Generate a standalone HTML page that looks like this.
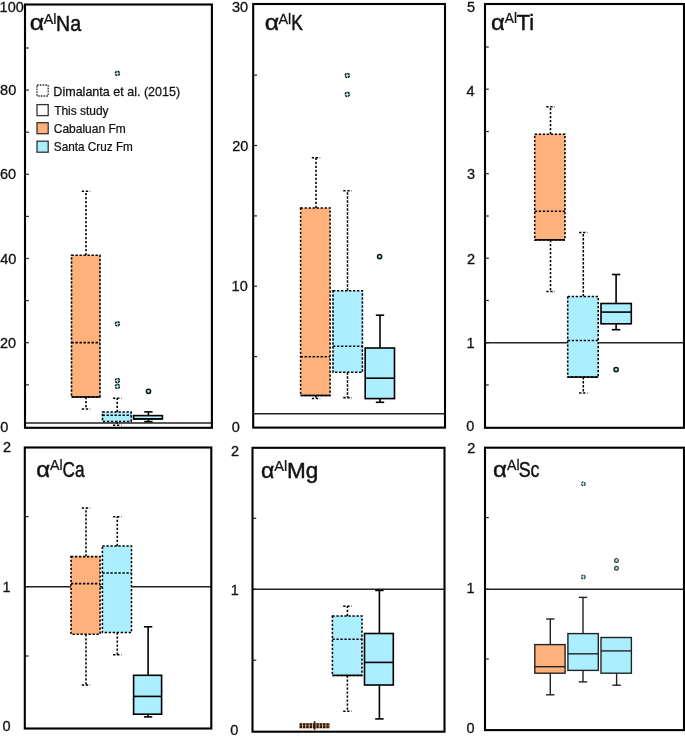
<!DOCTYPE html>
<html><head><meta charset="utf-8"><style>
html,body{margin:0;padding:0;background:#fff;width:685px;height:736px;overflow:hidden}
svg{display:block;will-change:transform}
</style></head><body>
<svg width="685" height="736" viewBox="0 0 685 736">
<rect width="685" height="736" fill="#fff"/>
<line x1="25.0" y1="422.9" x2="211.9" y2="422.9" stroke="#222" stroke-width="1.5"/>
<line x1="25.0" y1="384.8" x2="28.8" y2="384.8" stroke="#222" stroke-width="1.2"/>
<line x1="25.0" y1="342.7" x2="28.8" y2="342.7" stroke="#222" stroke-width="1.2"/>
<line x1="25.0" y1="300.6" x2="28.8" y2="300.6" stroke="#222" stroke-width="1.2"/>
<line x1="25.0" y1="258.5" x2="28.8" y2="258.5" stroke="#222" stroke-width="1.2"/>
<line x1="25.0" y1="216.4" x2="28.8" y2="216.4" stroke="#222" stroke-width="1.2"/>
<line x1="25.0" y1="174.3" x2="28.8" y2="174.3" stroke="#222" stroke-width="1.2"/>
<line x1="25.0" y1="132.2" x2="28.8" y2="132.2" stroke="#222" stroke-width="1.2"/>
<line x1="25.0" y1="90.1" x2="28.8" y2="90.1" stroke="#222" stroke-width="1.2"/>
<line x1="25.0" y1="48.0" x2="28.8" y2="48.0" stroke="#222" stroke-width="1.2"/>
<line x1="253.2" y1="413.8" x2="445.0" y2="413.8" stroke="#222" stroke-width="1.5"/>
<line x1="253.2" y1="356.6" x2="257.0" y2="356.6" stroke="#222" stroke-width="1.2"/>
<line x1="253.2" y1="286.2" x2="257.0" y2="286.2" stroke="#222" stroke-width="1.2"/>
<line x1="253.2" y1="215.9" x2="257.0" y2="215.9" stroke="#222" stroke-width="1.2"/>
<line x1="253.2" y1="145.5" x2="257.0" y2="145.5" stroke="#222" stroke-width="1.2"/>
<line x1="253.2" y1="75.1" x2="257.0" y2="75.1" stroke="#222" stroke-width="1.2"/>
<line x1="485.0" y1="342.7" x2="684.0" y2="342.7" stroke="#222" stroke-width="1.5"/>
<line x1="485.0" y1="385.0" x2="488.8" y2="385.0" stroke="#222" stroke-width="1.2"/>
<line x1="485.0" y1="342.7" x2="488.8" y2="342.7" stroke="#222" stroke-width="1.2"/>
<line x1="485.0" y1="300.5" x2="488.8" y2="300.5" stroke="#222" stroke-width="1.2"/>
<line x1="485.0" y1="258.2" x2="488.8" y2="258.2" stroke="#222" stroke-width="1.2"/>
<line x1="485.0" y1="216.0" x2="488.8" y2="216.0" stroke="#222" stroke-width="1.2"/>
<line x1="485.0" y1="173.7" x2="488.8" y2="173.7" stroke="#222" stroke-width="1.2"/>
<line x1="485.0" y1="131.5" x2="488.8" y2="131.5" stroke="#222" stroke-width="1.2"/>
<line x1="485.0" y1="89.2" x2="488.8" y2="89.2" stroke="#222" stroke-width="1.2"/>
<line x1="485.0" y1="47.0" x2="488.8" y2="47.0" stroke="#222" stroke-width="1.2"/>
<line x1="24.8" y1="586.7" x2="211.3" y2="586.7" stroke="#222" stroke-width="1.5"/>
<line x1="24.8" y1="656.0" x2="28.6" y2="656.0" stroke="#222" stroke-width="1.2"/>
<line x1="24.8" y1="586.6" x2="28.6" y2="586.6" stroke="#222" stroke-width="1.2"/>
<line x1="24.8" y1="516.6" x2="28.6" y2="516.6" stroke="#222" stroke-width="1.2"/>
<line x1="252.5" y1="589.2" x2="444.5" y2="589.2" stroke="#222" stroke-width="1.5"/>
<line x1="252.5" y1="660.2" x2="256.3" y2="660.2" stroke="#222" stroke-width="1.2"/>
<line x1="252.5" y1="589.3" x2="256.3" y2="589.3" stroke="#222" stroke-width="1.2"/>
<line x1="252.5" y1="518.3" x2="256.3" y2="518.3" stroke="#222" stroke-width="1.2"/>
<line x1="485.0" y1="589.2" x2="684.0" y2="589.2" stroke="#222" stroke-width="1.5"/>
<line x1="485.0" y1="659.0" x2="488.8" y2="659.0" stroke="#222" stroke-width="1.2"/>
<line x1="485.0" y1="589.3" x2="488.8" y2="589.3" stroke="#222" stroke-width="1.2"/>
<line x1="485.0" y1="517.6" x2="488.8" y2="517.6" stroke="#222" stroke-width="1.2"/>
<line x1="86" y1="255.3" x2="86" y2="191.2" stroke="#000" stroke-width="1.55" stroke-dasharray="2.35 1.65"/>
<line x1="81.8" y1="191.2" x2="90.2" y2="191.2" stroke="#000" stroke-width="1.55" stroke-dasharray="2.35 1.65"/>
<line x1="86" y1="397" x2="86" y2="408.9" stroke="#000" stroke-width="1.55" stroke-dasharray="2.35 1.65"/>
<line x1="81.8" y1="408.9" x2="90.2" y2="408.9" stroke="#000" stroke-width="1.55" stroke-dasharray="2.35 1.65"/>
<rect x="71.5" y="255.3" width="28.5" height="141.7" fill="#FFB17C" stroke="#000" stroke-width="1.55" stroke-dasharray="2.35 1.65"/>
<line x1="71.5" y1="397" x2="100" y2="397" stroke="#000" stroke-width="1.55"/>
<line x1="71.5" y1="342.6" x2="100" y2="342.6" stroke="#000" stroke-width="1.55" stroke-dasharray="2.35 1.65"/>
<line x1="117.2" y1="412.0" x2="117.2" y2="398.2" stroke="#000" stroke-width="1.55" stroke-dasharray="2.35 1.65"/>
<line x1="113.0" y1="398.2" x2="121.4" y2="398.2" stroke="#000" stroke-width="1.55" stroke-dasharray="2.35 1.65"/>
<line x1="117.2" y1="421.4" x2="117.2" y2="425.3" stroke="#000" stroke-width="1.55" stroke-dasharray="2.35 1.65"/>
<line x1="113.0" y1="425.3" x2="121.4" y2="425.3" stroke="#000" stroke-width="1.55" stroke-dasharray="2.35 1.65"/>
<rect x="102.5" y="412.0" width="28.7" height="9.4" fill="#AAEEFF" stroke="#000" stroke-width="1.55" stroke-dasharray="2.35 1.65"/>
<line x1="102.5" y1="415.3" x2="131.2" y2="415.3" stroke="#000" stroke-width="1.55" stroke-dasharray="2.35 1.65"/>
<line x1="148.4" y1="415.6" x2="148.4" y2="411.9" stroke="#000" stroke-width="1.6" />
<line x1="144.20000000000002" y1="411.9" x2="152.6" y2="411.9" stroke="#000" stroke-width="1.6" />
<line x1="148.4" y1="418.9" x2="148.4" y2="421.6" stroke="#000" stroke-width="1.6" />
<line x1="144.20000000000002" y1="421.6" x2="152.6" y2="421.6" stroke="#000" stroke-width="1.6" />
<rect x="133.5" y="415.6" width="28.9" height="3.3" fill="#AAEEFF" stroke="#000" stroke-width="1.6" />
<line x1="133.5" y1="418.9" x2="162.4" y2="418.9" stroke="#000" stroke-width="1.6" />
<line x1="316" y1="208" x2="316" y2="157.7" stroke="#000" stroke-width="1.55" stroke-dasharray="2.35 1.65"/>
<line x1="311.8" y1="157.7" x2="320.2" y2="157.7" stroke="#000" stroke-width="1.55" stroke-dasharray="2.35 1.65"/>
<line x1="316" y1="395.5" x2="316" y2="398.5" stroke="#000" stroke-width="1.55" stroke-dasharray="2.35 1.65"/>
<line x1="311.8" y1="398.5" x2="320.2" y2="398.5" stroke="#000" stroke-width="1.55" stroke-dasharray="2.35 1.65"/>
<rect x="300.6" y="208" width="29.5" height="187.5" fill="#FFB17C" stroke="#000" stroke-width="1.55" stroke-dasharray="2.35 1.65"/>
<line x1="300.6" y1="395.5" x2="330.1" y2="395.5" stroke="#000" stroke-width="1.55"/>
<line x1="300.6" y1="356.8" x2="330.1" y2="356.8" stroke="#000" stroke-width="1.55" stroke-dasharray="2.35 1.65"/>
<line x1="347.5" y1="290.7" x2="347.5" y2="190.7" stroke="#000" stroke-width="1.55" stroke-dasharray="2.35 1.65"/>
<line x1="343.3" y1="190.7" x2="351.7" y2="190.7" stroke="#000" stroke-width="1.55" stroke-dasharray="2.35 1.65"/>
<line x1="347.5" y1="372.3" x2="347.5" y2="397.6" stroke="#000" stroke-width="1.55" stroke-dasharray="2.35 1.65"/>
<line x1="343.3" y1="397.6" x2="351.7" y2="397.6" stroke="#000" stroke-width="1.55" stroke-dasharray="2.35 1.65"/>
<rect x="333.0" y="290.7" width="29.4" height="81.6" fill="#AAEEFF" stroke="#000" stroke-width="1.55" stroke-dasharray="2.35 1.65"/>
<line x1="333.0" y1="346.3" x2="362.4" y2="346.3" stroke="#000" stroke-width="1.55" stroke-dasharray="2.35 1.65"/>
<line x1="380" y1="348" x2="380" y2="315.2" stroke="#000" stroke-width="1.6" />
<line x1="375.8" y1="315.2" x2="384.2" y2="315.2" stroke="#000" stroke-width="1.6" />
<line x1="380" y1="398.6" x2="380" y2="402.3" stroke="#000" stroke-width="1.6" />
<line x1="375.8" y1="402.3" x2="384.2" y2="402.3" stroke="#000" stroke-width="1.6" />
<rect x="365.2" y="348" width="29.3" height="50.6" fill="#AAEEFF" stroke="#000" stroke-width="1.6" />
<line x1="365.2" y1="378.2" x2="394.5" y2="378.2" stroke="#000" stroke-width="1.6" />
<line x1="550.5" y1="134.3" x2="550.5" y2="106.8" stroke="#000" stroke-width="1.55" stroke-dasharray="2.35 1.65"/>
<line x1="546.3" y1="106.8" x2="554.7" y2="106.8" stroke="#000" stroke-width="1.55" stroke-dasharray="2.35 1.65"/>
<line x1="550.5" y1="239.9" x2="550.5" y2="291.4" stroke="#000" stroke-width="1.55" stroke-dasharray="2.35 1.65"/>
<line x1="546.3" y1="291.4" x2="554.7" y2="291.4" stroke="#000" stroke-width="1.55" stroke-dasharray="2.35 1.65"/>
<rect x="534.7" y="134.3" width="30.3" height="105.6" fill="#FFB17C" stroke="#000" stroke-width="1.55" stroke-dasharray="2.35 1.65"/>
<line x1="534.7" y1="239.9" x2="565" y2="239.9" stroke="#000" stroke-width="1.55"/>
<line x1="534.7" y1="211.2" x2="565" y2="211.2" stroke="#000" stroke-width="1.55" stroke-dasharray="2.35 1.65"/>
<line x1="583.3" y1="296.4" x2="583.3" y2="232.4" stroke="#000" stroke-width="1.55" stroke-dasharray="2.35 1.65"/>
<line x1="579.0999999999999" y1="232.4" x2="587.5" y2="232.4" stroke="#000" stroke-width="1.55" stroke-dasharray="2.35 1.65"/>
<line x1="583.3" y1="377.1" x2="583.3" y2="393" stroke="#000" stroke-width="1.55" stroke-dasharray="2.35 1.65"/>
<line x1="579.0999999999999" y1="393" x2="587.5" y2="393" stroke="#000" stroke-width="1.55" stroke-dasharray="2.35 1.65"/>
<rect x="567.7" y="296.4" width="30.5" height="80.7" fill="#AAEEFF" stroke="#000" stroke-width="1.55" stroke-dasharray="2.35 1.65"/>
<line x1="567.7" y1="377.1" x2="598.2" y2="377.1" stroke="#000" stroke-width="1.55"/>
<line x1="567.7" y1="340.4" x2="598.2" y2="340.4" stroke="#000" stroke-width="1.55" stroke-dasharray="2.35 1.65"/>
<line x1="616.1" y1="303.5" x2="616.1" y2="274.5" stroke="#000" stroke-width="1.6" />
<line x1="611.9" y1="274.5" x2="620.3000000000001" y2="274.5" stroke="#000" stroke-width="1.6" />
<line x1="616.1" y1="323.8" x2="616.1" y2="329.7" stroke="#000" stroke-width="1.6" />
<line x1="611.9" y1="329.7" x2="620.3000000000001" y2="329.7" stroke="#000" stroke-width="1.6" />
<rect x="601" y="303.5" width="30.3" height="20.3" fill="#AAEEFF" stroke="#000" stroke-width="1.6" />
<line x1="601" y1="312.1" x2="631.3" y2="312.1" stroke="#000" stroke-width="1.6" />
<line x1="86" y1="556.6" x2="86" y2="508" stroke="#000" stroke-width="1.55" stroke-dasharray="2.35 1.65"/>
<line x1="81.8" y1="508" x2="90.2" y2="508" stroke="#000" stroke-width="1.55" stroke-dasharray="2.35 1.65"/>
<line x1="86" y1="634.2" x2="86" y2="685" stroke="#000" stroke-width="1.55" stroke-dasharray="2.35 1.65"/>
<line x1="81.8" y1="685" x2="90.2" y2="685" stroke="#000" stroke-width="1.55" stroke-dasharray="2.35 1.65"/>
<rect x="71" y="556.6" width="29.1" height="77.6" fill="#FFB17C" stroke="#000" stroke-width="1.55" stroke-dasharray="2.35 1.65"/>
<line x1="71" y1="583.6" x2="100.1" y2="583.6" stroke="#000" stroke-width="1.55" stroke-dasharray="2.35 1.65"/>
<line x1="117.3" y1="546" x2="117.3" y2="516.8" stroke="#000" stroke-width="1.55" stroke-dasharray="2.35 1.65"/>
<line x1="113.1" y1="516.8" x2="121.5" y2="516.8" stroke="#000" stroke-width="1.55" stroke-dasharray="2.35 1.65"/>
<line x1="117.3" y1="632.4" x2="117.3" y2="654.8" stroke="#000" stroke-width="1.55" stroke-dasharray="2.35 1.65"/>
<line x1="113.1" y1="654.8" x2="121.5" y2="654.8" stroke="#000" stroke-width="1.55" stroke-dasharray="2.35 1.65"/>
<rect x="102.4" y="546" width="29.1" height="86.4" fill="#AAEEFF" stroke="#000" stroke-width="1.55" stroke-dasharray="2.35 1.65"/>
<line x1="102.4" y1="573" x2="131.5" y2="573" stroke="#000" stroke-width="1.55" stroke-dasharray="2.35 1.65"/>
<line x1="148.1" y1="675.3" x2="148.1" y2="626.8" stroke="#000" stroke-width="1.6" />
<line x1="143.9" y1="626.8" x2="152.29999999999998" y2="626.8" stroke="#000" stroke-width="1.6" />
<line x1="148.1" y1="714.2" x2="148.1" y2="716.9" stroke="#000" stroke-width="1.6" />
<line x1="143.9" y1="716.9" x2="152.29999999999998" y2="716.9" stroke="#000" stroke-width="1.6" />
<rect x="133.6" y="675.3" width="28.0" height="38.9" fill="#AAEEFF" stroke="#000" stroke-width="1.6" />
<line x1="133.6" y1="696.4" x2="161.6" y2="696.4" stroke="#000" stroke-width="1.6" />
<line x1="347.4" y1="616" x2="347.4" y2="606.2" stroke="#000" stroke-width="1.55" stroke-dasharray="2.35 1.65"/>
<line x1="343.2" y1="606.2" x2="351.59999999999997" y2="606.2" stroke="#000" stroke-width="1.55" stroke-dasharray="2.35 1.65"/>
<line x1="347.4" y1="675.4" x2="347.4" y2="711.3" stroke="#000" stroke-width="1.55" stroke-dasharray="2.35 1.65"/>
<line x1="343.2" y1="711.3" x2="351.59999999999997" y2="711.3" stroke="#000" stroke-width="1.55" stroke-dasharray="2.35 1.65"/>
<rect x="332.4" y="616" width="29.6" height="59.4" fill="#AAEEFF" stroke="#000" stroke-width="1.55" stroke-dasharray="2.35 1.65"/>
<line x1="332.4" y1="675.4" x2="362" y2="675.4" stroke="#000" stroke-width="1.55"/>
<line x1="332.4" y1="639.3" x2="362" y2="639.3" stroke="#000" stroke-width="1.55" stroke-dasharray="2.35 1.65"/>
<line x1="379.4" y1="633.5" x2="379.4" y2="590.4" stroke="#000" stroke-width="1.6" />
<line x1="375.2" y1="590.4" x2="383.59999999999997" y2="590.4" stroke="#000" stroke-width="1.6" />
<line x1="379.4" y1="685" x2="379.4" y2="718.9" stroke="#000" stroke-width="1.6" />
<line x1="375.2" y1="718.9" x2="383.59999999999997" y2="718.9" stroke="#000" stroke-width="1.6" />
<rect x="364.5" y="633.5" width="28.8" height="51.5" fill="#AAEEFF" stroke="#000" stroke-width="1.6" />
<line x1="364.5" y1="662.4" x2="393.3" y2="662.4" stroke="#000" stroke-width="1.6" />
<line x1="550.3" y1="644.6" x2="550.3" y2="619" stroke="#222" stroke-width="1.4" />
<line x1="546.0999999999999" y1="619" x2="554.5" y2="619" stroke="#222" stroke-width="1.4" />
<line x1="550.3" y1="673.2" x2="550.3" y2="694.8" stroke="#222" stroke-width="1.4" />
<line x1="546.0999999999999" y1="694.8" x2="554.5" y2="694.8" stroke="#222" stroke-width="1.4" />
<rect x="534.8" y="644.6" width="30.3" height="28.6" fill="#FFB17C" stroke="#222" stroke-width="1.4" />
<line x1="534.8" y1="666.7" x2="565.1" y2="666.7" stroke="#222" stroke-width="1.4" />
<line x1="583" y1="633.6" x2="583" y2="597.4" stroke="#222" stroke-width="1.4" />
<line x1="578.8" y1="597.4" x2="587.2" y2="597.4" stroke="#222" stroke-width="1.4" />
<line x1="583" y1="670.4" x2="583" y2="681.9" stroke="#222" stroke-width="1.4" />
<line x1="578.8" y1="681.9" x2="587.2" y2="681.9" stroke="#222" stroke-width="1.4" />
<rect x="567.9" y="633.6" width="30.4" height="36.8" fill="#AAEEFF" stroke="#222" stroke-width="1.4" />
<line x1="567.9" y1="653.8" x2="598.3" y2="653.8" stroke="#222" stroke-width="1.4" />
<line x1="616.6" y1="673.2" x2="616.6" y2="685.2" stroke="#222" stroke-width="1.4" />
<line x1="612.4" y1="685.2" x2="620.8000000000001" y2="685.2" stroke="#222" stroke-width="1.4" />
<rect x="601" y="637.5" width="30.4" height="35.7" fill="#AAEEFF" stroke="#222" stroke-width="1.4" />
<line x1="601" y1="650.9" x2="631.4" y2="650.9" stroke="#222" stroke-width="1.4" />
<rect x="299.6" y="723.0" width="30.4" height="5.3" fill="#FFB17C"/>
<line x1="299.6" y1="725.65" x2="330.0" y2="725.65" stroke="#1a1a1a" stroke-width="5.0" stroke-dasharray="2.4 0.95"/>
<line x1="299.6" y1="725.65" x2="330.0" y2="725.65" stroke="#FFB17C" stroke-width="0.7" opacity="0.5"/>
<line x1="314.6" y1="721.2" x2="314.6" y2="729.8" stroke="#111" stroke-width="1.6" stroke-dasharray="2.2 1"/>
<circle cx="117.4" cy="73.4" r="2.1" fill="#AAEEFF" stroke="#111" stroke-width="1.5" stroke-dasharray="2.2 0.8"/>
<circle cx="117.4" cy="323.8" r="2.1" fill="#AAEEFF" stroke="#111" stroke-width="1.5" stroke-dasharray="2.2 0.8"/>
<circle cx="117.4" cy="380.6" r="2.1" fill="#AAEEFF" stroke="#111" stroke-width="1.5" stroke-dasharray="2.2 0.8"/>
<circle cx="117.4" cy="386.4" r="2.1" fill="#AAEEFF" stroke="#111" stroke-width="1.5" stroke-dasharray="2.2 0.8"/>
<circle cx="148.5" cy="391.3" r="2.1" fill="#AAEEFF" stroke="#111" stroke-width="1.5" />
<circle cx="347.3" cy="75.5" r="2.1" fill="#AAEEFF" stroke="#111" stroke-width="1.5" stroke-dasharray="2.2 0.8"/>
<circle cx="347.3" cy="94.4" r="2.1" fill="#AAEEFF" stroke="#111" stroke-width="1.5" stroke-dasharray="2.2 0.8"/>
<circle cx="379.6" cy="256.6" r="2.1" fill="#AAEEFF" stroke="#111" stroke-width="1.5" />
<circle cx="616.1" cy="369.6" r="2.1" fill="#AAEEFF" stroke="#111" stroke-width="1.5" />
<circle cx="583.3" cy="483.8" r="1.9" fill="#AAEEFF" stroke="#333" stroke-width="1.2" stroke-dasharray="2.2 0.8"/>
<circle cx="583.3" cy="577" r="1.9" fill="#AAEEFF" stroke="#333" stroke-width="1.2" stroke-dasharray="2.2 0.8"/>
<circle cx="616.5" cy="560.4" r="1.9" fill="#AAEEFF" stroke="#333" stroke-width="1.2" />
<circle cx="616.5" cy="568.2" r="1.9" fill="#AAEEFF" stroke="#333" stroke-width="1.2" />
<rect x="25.0" y="4.5" width="186.9" height="423.3" fill="none" stroke="#000" stroke-width="2.1"/>
<rect x="253.2" y="4.0" width="191.8" height="423.6" fill="none" stroke="#000" stroke-width="2.1"/>
<rect x="485.0" y="4.0" width="199.0" height="423.8" fill="none" stroke="#000" stroke-width="2.1"/>
<rect x="24.8" y="447.5" width="186.5" height="281.0" fill="none" stroke="#000" stroke-width="2.1"/>
<rect x="252.5" y="447.8" width="192.0" height="283.9" fill="none" stroke="#000" stroke-width="2.1"/>
<rect x="485.0" y="447.7" width="199.0" height="282.4" fill="none" stroke="#000" stroke-width="2.1"/>
<text x="-0.40" y="11.89" font-family="Liberation Sans, sans-serif" font-size="14.50" fill="#111" stroke="#111" stroke-width="0.3">100</text>
<text x="0.08" y="95.49" font-family="Liberation Sans, sans-serif" font-size="14.50" fill="#111" stroke="#111" stroke-width="0.3">80</text>
<text x="-0.14" y="179.49" font-family="Liberation Sans, sans-serif" font-size="14.50" fill="#111" stroke="#111" stroke-width="0.3">60</text>
<text x="0.17" y="263.59" font-family="Liberation Sans, sans-serif" font-size="14.50" fill="#111" stroke="#111" stroke-width="0.3">40</text>
<text x="-0.03" y="347.59" font-family="Liberation Sans, sans-serif" font-size="14.50" fill="#111" stroke="#111" stroke-width="0.3">20</text>
<text x="0.23" y="431.89" font-family="Liberation Sans, sans-serif" font-size="14.50" fill="#111" stroke="#111" stroke-width="0.3">0</text>
<text x="231.95" y="11.59" font-family="Liberation Sans, sans-serif" font-size="14.50" fill="#111" stroke="#111" stroke-width="0.3">30</text>
<text x="232.18" y="151.19" font-family="Liberation Sans, sans-serif" font-size="14.50" fill="#111" stroke="#111" stroke-width="0.3">20</text>
<text x="231.60" y="291.29" font-family="Liberation Sans, sans-serif" font-size="14.50" fill="#111" stroke="#111" stroke-width="0.3">10</text>
<text x="231.63" y="432.49" font-family="Liberation Sans, sans-serif" font-size="14.50" fill="#111" stroke="#111" stroke-width="0.3">0</text>
<text x="467.02" y="12.22" font-family="Liberation Sans, sans-serif" font-size="14.50" fill="#111" stroke="#111" stroke-width="0.3">5</text>
<text x="466.47" y="95.59" font-family="Liberation Sans, sans-serif" font-size="14.50" fill="#111" stroke="#111" stroke-width="0.3">4</text>
<text x="466.95" y="178.89" font-family="Liberation Sans, sans-serif" font-size="14.50" fill="#111" stroke="#111" stroke-width="0.3">3</text>
<text x="466.97" y="264.06" font-family="Liberation Sans, sans-serif" font-size="14.50" fill="#111" stroke="#111" stroke-width="0.3">2</text>
<text x="466.50" y="347.89" font-family="Liberation Sans, sans-serif" font-size="14.50" fill="#111" stroke="#111" stroke-width="0.3">1</text>
<text x="466.33" y="431.49" font-family="Liberation Sans, sans-serif" font-size="14.50" fill="#111" stroke="#111" stroke-width="0.3">0</text>
<text x="3.07" y="451.56" font-family="Liberation Sans, sans-serif" font-size="14.50" fill="#111" stroke="#111" stroke-width="0.3">2</text>
<text x="2.60" y="591.79" font-family="Liberation Sans, sans-serif" font-size="14.50" fill="#111" stroke="#111" stroke-width="0.3">1</text>
<text x="2.53" y="730.99" font-family="Liberation Sans, sans-serif" font-size="14.50" fill="#111" stroke="#111" stroke-width="0.3">0</text>
<text x="230.97" y="455.56" font-family="Liberation Sans, sans-serif" font-size="14.50" fill="#111" stroke="#111" stroke-width="0.3">2</text>
<text x="230.70" y="594.89" font-family="Liberation Sans, sans-serif" font-size="14.50" fill="#111" stroke="#111" stroke-width="0.3">1</text>
<text x="230.33" y="734.89" font-family="Liberation Sans, sans-serif" font-size="14.50" fill="#111" stroke="#111" stroke-width="0.3">0</text>
<text x="467.17" y="453.26" font-family="Liberation Sans, sans-serif" font-size="14.50" fill="#111" stroke="#111" stroke-width="0.3">2</text>
<text x="466.60" y="593.29" font-family="Liberation Sans, sans-serif" font-size="14.50" fill="#111" stroke="#111" stroke-width="0.3">1</text>
<text x="466.43" y="733.19" font-family="Liberation Sans, sans-serif" font-size="14.50" fill="#111" stroke="#111" stroke-width="0.3">0</text>
<text transform="translate(29.75,30.28) scale(1.123,1)" font-family="Liberation Sans, sans-serif" font-size="22.30" fill="#111" stroke="#111" stroke-width="0.45">α</text>
<text transform="translate(43.77,23.60) scale(1.019,1)" font-family="Liberation Sans, sans-serif" font-size="14.00" fill="#111" stroke="#111" stroke-width="0.25">Al</text>
<text transform="translate(56.10,30.50) scale(0.910,1)" font-family="Liberation Sans, sans-serif" font-size="21.51" fill="#111" stroke="#111" stroke-width="0.45">Na</text>
<text transform="translate(264.66,29.88) scale(1.114,1)" font-family="Liberation Sans, sans-serif" font-size="22.30" fill="#111" stroke="#111" stroke-width="0.45">α</text>
<text transform="translate(278.47,23.50) scale(1.028,1)" font-family="Liberation Sans, sans-serif" font-size="14.00" fill="#111" stroke="#111" stroke-width="0.25">Al</text>
<text transform="translate(291.17,30.10) scale(0.811,1)" font-family="Liberation Sans, sans-serif" font-size="21.51" fill="#111" stroke="#111" stroke-width="0.45">K</text>
<text transform="translate(491.00,30.08) scale(1.070,1)" font-family="Liberation Sans, sans-serif" font-size="22.30" fill="#111" stroke="#111" stroke-width="0.45">α</text>
<text transform="translate(504.87,23.30) scale(0.976,1)" font-family="Liberation Sans, sans-serif" font-size="14.00" fill="#111" stroke="#111" stroke-width="0.25">Al</text>
<text transform="translate(516.72,29.90) scale(1.020,1)" font-family="Liberation Sans, sans-serif" font-size="21.22" fill="#111" stroke="#111" stroke-width="0.45">Ti</text>
<text transform="translate(36.29,476.68) scale(1.079,1)" font-family="Liberation Sans, sans-serif" font-size="22.30" fill="#111" stroke="#111" stroke-width="0.45">α</text>
<text transform="translate(50.07,470.10) scale(1.019,1)" font-family="Liberation Sans, sans-serif" font-size="14.00" fill="#111" stroke="#111" stroke-width="0.25">Al</text>
<text transform="translate(62.62,476.88) scale(0.775,1)" font-family="Liberation Sans, sans-serif" font-size="22.18" fill="#111" stroke="#111" stroke-width="0.45">Ca</text>
<text transform="translate(261.03,477.78) scale(1.035,1)" font-family="Liberation Sans, sans-serif" font-size="22.30" fill="#111" stroke="#111" stroke-width="0.45">α</text>
<text transform="translate(274.27,471.00) scale(1.045,1)" font-family="Liberation Sans, sans-serif" font-size="14.00" fill="#111" stroke="#111" stroke-width="0.25">Al</text>
<text transform="translate(287.05,478.00) scale(1.020,1)" font-family="Liberation Sans, sans-serif" font-size="22.09" fill="#111" stroke="#111" stroke-width="0.45">Mg</text>
<text transform="translate(493.09,476.68) scale(1.079,1)" font-family="Liberation Sans, sans-serif" font-size="22.30" fill="#111" stroke="#111" stroke-width="0.45">α</text>
<text transform="translate(506.97,470.10) scale(1.010,1)" font-family="Liberation Sans, sans-serif" font-size="14.00" fill="#111" stroke="#111" stroke-width="0.25">Al</text>
<text transform="translate(518.68,476.88) scale(0.803,1)" font-family="Liberation Sans, sans-serif" font-size="22.18" fill="#111" stroke="#111" stroke-width="0.45">Sc</text>
<rect x="37.0" y="85.0" width="11.2" height="11.0" fill="#fff" stroke="#333" stroke-width="1.3" stroke-dasharray="1.7 1.1"/>
<text transform="translate(53.37,95.90) scale(0.981,1)" font-family="Liberation Sans, sans-serif" font-size="12.8" fill="#111" stroke="#111" stroke-width="0.25">Dimalanta et al. (2015)</text>
<rect x="37.0" y="104.6" width="11.2" height="11.0" fill="#fff" stroke="#333" stroke-width="1.3" />
<text transform="translate(54.14,114.90) scale(0.934,1)" font-family="Liberation Sans, sans-serif" font-size="12.8" fill="#111" stroke="#111" stroke-width="0.25">This study</text>
<rect x="37.0" y="122.7" width="11.2" height="11.0" fill="#FFB17C" stroke="#333" stroke-width="1.3" />
<text transform="translate(53.79,133.20) scale(0.938,1)" font-family="Liberation Sans, sans-serif" font-size="12.8" fill="#111" stroke="#111" stroke-width="0.25">Cabaluan Fm</text>
<rect x="37.0" y="141.2" width="11.2" height="11.0" fill="#AAEEFF" stroke="#333" stroke-width="1.3" />
<text transform="translate(53.86,151.20) scale(0.919,1)" font-family="Liberation Sans, sans-serif" font-size="12.8" fill="#111" stroke="#111" stroke-width="0.25">Santa Cruz Fm</text>
</svg>
</body></html>
